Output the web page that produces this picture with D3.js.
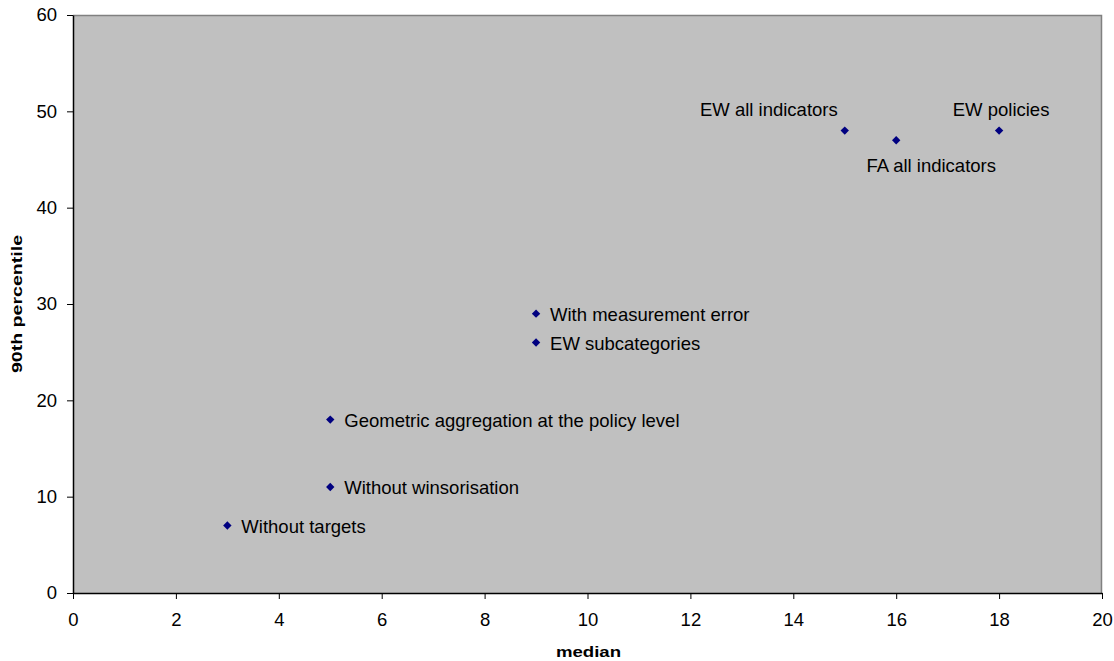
<!DOCTYPE html>
<html>
<head>
<meta charset="utf-8">
<script src="https://cdn.jsdelivr.net/npm/d3@7"></script>
<style>
  body { margin: 0; background: #fff; }
  text { font-family: Arial, 'Liberation Sans', sans-serif; }
</style>
</head>
<body>
<div id="chart"></div>
<script>
// data
const labels = ['Without targets', 'Without winsorisation', 'Geometric aggregation at the policy level',
  'EW subcategories', 'With measurement error', 'EW all indicators', 'FA all indicators', 'EW policies']
const medians = [3, 5, 5, 9, 9, 15, 16, 18]
const p90 = [7, 11, 18, 26, 29, 48, 47, 48]
// label placement: r = right, tl = above left, b = below right, t = above
const placement = ['r', 'r', 'r', 'r', 'r', 'tl', 'b', 't']
const xTicks = [0, 2, 4, 6, 8, 10, 12, 14, 16, 18, 20]
const yTicks = [0, 10, 20, 30, 40, 50, 60]

const margin = { top: 15, left: 73, right: 12, bottom: 68 }
const width = 1114 - margin.left - margin.right
const height = 661 - margin.top - margin.bottom

const svg = d3
  .select('#chart')
  .append('svg')
  .attr('width', 1114)
  .attr('height', 661)
  .append('g')
  .attr('transform', 'translate(' + margin.left + ',' + margin.top + ')')

const x = d3.scaleLinear().domain([0, 20]).range([0, width])
const y = d3.scaleLinear().domain([0, 60]).range([height, 0])

svg.append('rect')
  .attr('width', width)
  .attr('height', height)
  .attr('fill', '#c0c0c0')

// top and right border
svg.append('path')
  .attr('d', `M0,0.5H${width - 0.5}V${height}`)
  .attr('fill', 'none')
  .attr('stroke', '#808080')
  .attr('stroke-width', 1.5)

svg.append('g')
  .attr('transform', 'translate(0,' + height + ')')
  .call(d3.axisBottom(x).tickValues(xTicks).tickSize(6).tickSizeOuter(0).tickPadding(14))
svg.append('g')
  .call(d3.axisLeft(y).tickValues(yTicks).tickSize(6).tickSizeOuter(0).tickPadding(10))

svg.selectAll('.domain').attr('stroke', '#000').attr('stroke-width', 1.5)
svg.selectAll('.tick line').attr('stroke', '#000')
svg.selectAll('.tick text').attr('font-size', 18.5).attr('fill', '#000')
  .style('font-family', 'Arial, "Liberation Sans", sans-serif')

// axis titles are drawn a bit stretched along the text, like the original
svg.append('text')
  .attr('transform', `translate(${width / 2 + 1},${657 - margin.top}) scale(1.33,1.1)`)
  .attr('text-anchor', 'middle')
  .attr('font-size', 14)
  .attr('font-weight', 'bold')
  .text('median')

svg.append('text')
  .attr('transform', `translate(${22 - margin.left},${304 - margin.top}) rotate(-90) scale(1.4,1)`)
  .attr('text-anchor', 'middle')
  .attr('font-size', 14)
  .attr('font-weight', 'bold')
  .text('90th percentile')

const pts = labels.map((l, i) => ({ label: l, x: medians[i], y: p90[i], pos: placement[i] }))

svg.selectAll('.pt')
  .data(pts)
  .enter()
  .append('path')
  .attr('class', 'pt')
  .attr('d', d3.symbol(d3.symbolDiamond2, 45))
  .attr('transform', d => `translate(${x(d.x)},${y(d.y)})`)
  .attr('fill', '#000080')

svg.selectAll('.lbl')
  .data(pts)
  .enter()
  .append('text')
  .attr('class', 'lbl')
  .attr('font-size', 18.5)
  .attr('fill', '#000')
  .attr('x', d => {
    if (d.pos === 'r') return x(d.x) + 14
    if (d.pos === 'tl') return x(d.x) - 7
    if (d.pos === 'b') return x(d.x) + 35
    return x(d.x) + 2
  })
  .attr('y', d => {
    if (d.pos === 'r') return y(d.y) + 7
    if (d.pos === 'b') return y(d.y) + 32
    return y(d.y) - 15
  })
  .attr('text-anchor', d => d.pos === 'r' ? 'start' : d.pos === 'tl' ? 'end' : 'middle')
  .text(d => d.label)
</script>
</body>
</html>
